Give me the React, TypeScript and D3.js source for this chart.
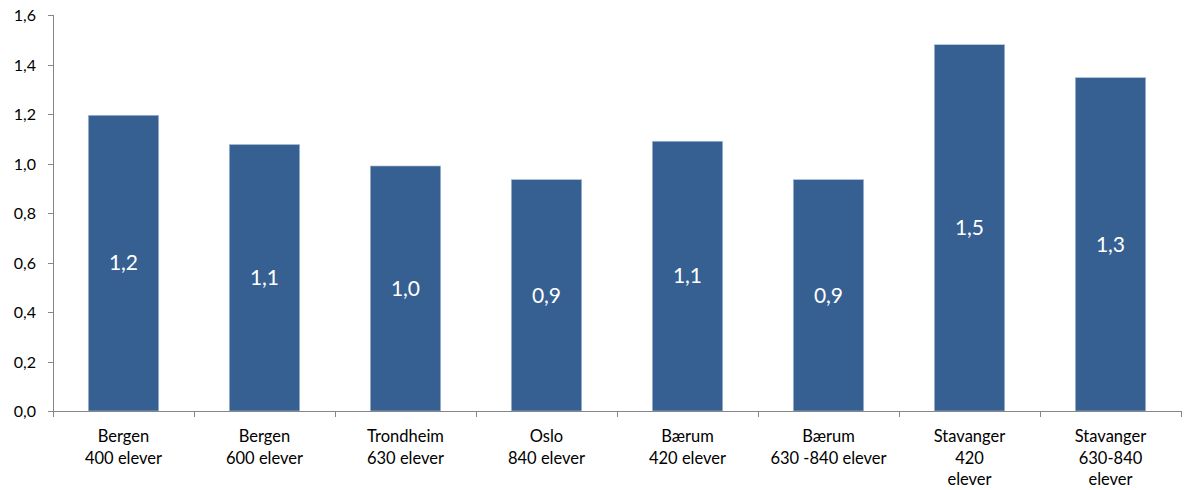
import * as d3 from "d3";

const categories = [
  ["Bergen", "400 elever"],
  ["Bergen", "600 elever"],
  ["Trondheim", "630 elever"],
  ["Oslo", "840 elever"],
  ["Bærum", "420 elever"],
  ["Bærum", "630 -840 elever"],
  ["Stavanger", "420", "elever"],
  ["Stavanger", "630-840", "elever"],
];
const values = [1.195, 1.077, 0.99, 0.935, 1.09, 0.935, 1.48, 1.347];
const yTicks = [0, 0.2, 0.4, 0.6, 0.8, 1.0, 1.2, 1.4, 1.6];

const width = 1187;
const height = 490;
const margin = { top: 15, right: 6, bottom: 79, left: 53 };
const fmt = (v: number) => v.toFixed(1).replace(".", ",");
const fontFamily = "Lato, 'Liberation Sans', sans-serif";

const App = () => {
  const keys = categories.map((c, i) => String(i));
  const xScale = d3
    .scaleBand()
    .domain(keys)
    .range([margin.left, width - margin.right])
    .paddingInner(0.5)
    .paddingOuter(0.25);
  const yScale = d3
    .scaleLinear()
    .domain([0, 1.6])
    .range([height - margin.bottom, margin.top]);
  const step = xScale.step();
  const x0 = margin.left;
  const y0 = yScale(0);

  return (
    <div style={{ position: "absolute", left: 0, top: 0, background: "#fff" }}>
      <svg width={width} height={height} style={{ fontFamily }}>
        {/* bars */}
        {values.map((v, i) => (
          <rect
            key={i}
            x={xScale(String(i))}
            y={yScale(v)}
            width={xScale.bandwidth()}
            height={y0 - yScale(v)}
            fill="#376092"
            stroke="#b8c6da"
            strokeWidth={0.6}
          />
        ))}
        {values.map((v, i) => (
          <text
            key={i}
            x={xScale(String(i))! + xScale.bandwidth() / 2}
            y={(yScale(v) + y0) / 2}
            dy="0.35em"
            textAnchor="middle"
            fill="#fff"
            fontSize={21}
          >
            {fmt(v)}
          </text>
        ))}

        {/* y axis */}
        <line x1={x0 + 0.5} x2={x0 + 0.5} y1={yScale(1.6)} y2={y0} stroke="#868686" />
        {yTicks.map((t) => (
          <g key={t} transform={`translate(0,${Math.round(yScale(t)) + 0.5})`}>
            <line x1={x0 - 5} x2={x0} stroke="#868686" />
            <text x={x0 - 17} dy="0.35em" textAnchor="end" fontSize={16} fill="#000">
              {fmt(t)}
            </text>
          </g>
        ))}

        {/* x axis */}
        <line x1={x0} x2={width - margin.right} y1={Math.round(y0) + 0.5} y2={Math.round(y0) + 0.5} stroke="#868686" />
        {d3.range(categories.length + 1).map((i) => (
          <line
            key={i}
            x1={Math.round(x0 + i * step) + 0.5}
            x2={Math.round(x0 + i * step) + 0.5}
            y1={y0}
            y2={y0 + 6}
            stroke="#868686"
          />
        ))}
        {categories.map((lines, i) => (
          <text
            key={i}
            x={xScale(String(i))! + xScale.bandwidth() / 2}
            y={442}
            textAnchor="middle"
            fontSize={16.5}
            fill="#000"
          >
            {lines.map((l, j) => (
              <tspan key={j} x={xScale(String(i))! + xScale.bandwidth() / 2} y={442 + j * 21.5}>
                {l}
              </tspan>
            ))}
          </text>
        ))}
      </svg>
    </div>
  );
};

export default App;
